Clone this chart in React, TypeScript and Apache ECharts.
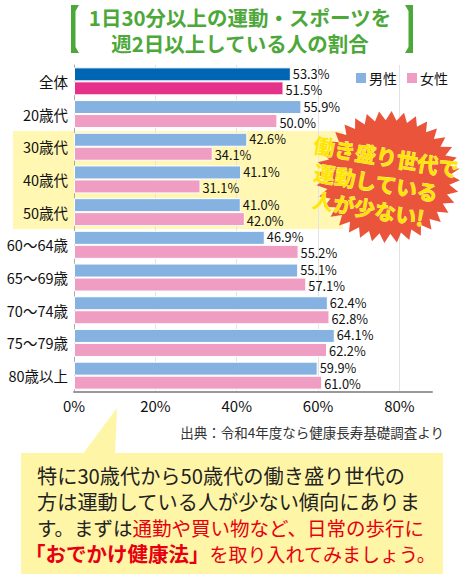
import React, { useEffect, useRef } from 'react';
import * as echarts from 'echarts';

const categories = ['全体', '20歳代', '30歳代', '40歳代', '50歳代', '60〜64歳', '65〜69歳', '70〜74歳', '75〜79歳', '80歳以上'];
const maleValues = [53.3, 55.9, 42.6, 41.1, 41.0, 46.9, 55.1, 62.4, 64.1, 59.9];
const femaleValues = [51.5, 50.0, 34.1, 31.1, 42.0, 55.2, 57.1, 62.8, 62.2, 61.0];
const seriesNames = ['男性', '女性'];
const titleLines = ['1日30分以上の運動・スポーツを', '週2日以上している人の割合'];
const burstLines = ['働き盛り世代で', '運動している', '人が少ない!'];
const sourceText = '出典：令和4年度なら健康長寿基礎調査より';

const FONT = '"Noto Sans CJK JP", "Noto Sans", sans-serif';

function starPoints(cx: number, cy: number, rx: number, ry: number, n: number, inner: number) {
  const pts: number[][] = [];
  for (let i = 0; i < n * 2; i++) {
    const a = (Math.PI * i) / n + 0.05;
    const f = i % 2 === 0 ? 1 : inner;
    pts.push([cx + Math.cos(a) * rx * f, cy + Math.sin(a) * ry * f]);
  }
  return pts;
}

export default function App() {
  const ref = useRef<HTMLDivElement>(null);
  useEffect(() => {
    const chart = echarts.init(ref.current!, null, { renderer: 'svg' });
    const labelFmt = (p: any) => Number(p.value).toFixed(1) + '%';
    const green = '#4DA83A';
    const red = '#E60012';
    const labelStyle = (dy: number) => ({
      show: true, position: 'right', distance: 2, offset: [0, dy], formatter: labelFmt,
      fontSize: 12.8, lineHeight: 13, color: '#111', fontFamily: FONT,
    });
    chart.setOption({
      animation: false,
      textStyle: { fontFamily: FONT },
      grid: { left: 74, right: 30, top: 65, bottom: 187 },
      legend: {
        data: seriesNames,
        left: 354,
        top: 71,
        padding: 0,
        icon: 'rect',
        itemWidth: 12,
        itemHeight: 12,
        itemGap: 8,
        textStyle: { fontSize: 14, color: '#111', fontFamily: FONT, padding: [0, 0, 0, -3] },
      },
      xAxis: {
        type: 'value',
        min: 0,
        max: 88,
        interval: 20,
        axisLine: { show: true, lineStyle: { color: '#999', width: 2 } },
        axisTick: { show: false },
        axisLabel: {
          fontSize: 15,
          color: '#111',
          margin: 6,
          formatter: (v: number) => (v % 20 === 0 ? v + '%' : ''),
        },
        splitLine: { show: true, showMaxLine: false, lineStyle: { color: '#e3e3e3' } },
      },
      yAxis: {
        type: 'category',
        inverse: true,
        data: categories,
        axisLine: { show: true, lineStyle: { color: '#aaa', width: 1 } },
        axisTick: { show: false },
        axisLabel: { fontSize: 14.5, color: '#111', margin: 6 },
      },
      series: [
        {
          name: seriesNames[0],
          type: 'bar',
          barWidth: 14,
          barGap: '0%',
          data: maleValues.map((v, i) => (i === 0 ? { value: v, itemStyle: { color: '#0066B3' } } : v)),
          itemStyle: { color: '#86B2E1', borderColor: '#fff', borderWidth: 1 },
          label: labelStyle(-1),
        },
        {
          name: seriesNames[1],
          type: 'bar',
          barWidth: 14,
          data: femaleValues.map((v, i) => (i === 0 ? { value: v, itemStyle: { color: '#E5318A' } } : v)),
          itemStyle: { color: '#F09DC3', borderColor: '#fff', borderWidth: 1 },
          label: labelStyle(1),
        },
      ],
      graphic: [
        { type: 'rect', z: -10, shape: { x: 13, y: 131, width: 330, height: 98 }, style: { fill: '#FFF7B2' } },
        { type: 'polygon', shape: { points: [[71, 5], [79, 5], [75.5, 11], [75.5, 47], [79, 53], [71, 53]] }, style: { fill: green } },
        { type: 'polygon', shape: { points: [[413, 5], [405, 5], [408.5, 11], [408.5, 47], [405, 53], [413, 53]] }, style: { fill: green } },
        {
          type: 'text', x: 240, y: 17,
          style: { text: titleLines[0], fill: green, fontSize: 20.5, fontWeight: 'bold', fontFamily: FONT, align: 'center', verticalAlign: 'middle' },
        },
        {
          type: 'text', x: 240, y: 42.5,
          style: { text: titleLines[1], fill: green, fontSize: 20.5, fontWeight: 'bold', fontFamily: FONT, align: 'center', verticalAlign: 'middle' },
        },
        {
          type: 'polygon', z: 100,
          shape: { points: starPoints(388, 177, 72, 66, 36, 0.86) },
          style: { fill: '#E9543A' },
        },
        {
          type: 'group', x: 382, y: 183, rotation: -0.17, z: 101,
          children: burstLines.map((t, i) => ({
            type: 'text', z: 101,
            x: [0, -6, -9][i], y: (i - 1) * 27,
            style: { text: t, fill: '#FFE600', stroke: '#FFF3A0', lineWidth: 0.8, fontSize: 21, fontWeight: 'bold', fontFamily: FONT, align: 'center', verticalAlign: 'middle' },
          })),
        },
        {
          type: 'text', x: 444, y: 432,
          style: { text: sourceText, fill: '#333', fontSize: 13.5, fontFamily: FONT, align: 'right', verticalAlign: 'middle' },
        },
        { type: 'polygon', shape: { points: [[82, 455], [117, 408], [115, 455]] }, style: { fill: '#FFF5A6' } },
        { type: 'rect', shape: { x: 21, y: 453, width: 422, height: 121 }, style: { fill: '#FFF5A6' } },
        {
          type: 'text', x: 37, y: 475,
          style: { text: '特に30歳代から50歳代の働き盛り世代の', fill: '#222', fontSize: 20.2, fontFamily: FONT, align: 'left', verticalAlign: 'middle' },
        },
        {
          type: 'text', x: 37, y: 501,
          style: { text: '方は運動している人が少ない傾向にありま', fill: '#222', fontSize: 20.2, fontFamily: FONT, align: 'left', verticalAlign: 'middle' },
        },
        {
          type: 'text', x: 37, y: 527,
          style: {
            text: '{k|す。まずは}{r|通勤や買い物など、日常の歩行に}',
            fontFamily: FONT, align: 'left', verticalAlign: 'middle',
            rich: {
              k: { fill: '#222', color: '#222', fontSize: 19.5, fontFamily: FONT },
              r: { fill: red, color: red, fontSize: 19.5, fontFamily: FONT },
            },
          },
        },
        {
          type: 'text', x: 25, y: 553,
          style: {
            text: '{b|「おでかけ健康法」}{r|を取り入れてみましょう。}',
            fontFamily: FONT, align: 'left', verticalAlign: 'middle',
            rich: {
              b: { fill: red, color: red, fontSize: 20.5, fontWeight: 'bold', fontFamily: FONT },
              r: { fill: red, color: red, fontSize: 19, fontFamily: FONT },
            },
          },
        },
      ],
    });
    return () => chart.dispose();
  }, []);
  return <div ref={ref} style={{ position: 'fixed', left: 0, top: 0, width: 462, height: 579, background: '#fff' }} />;
}
